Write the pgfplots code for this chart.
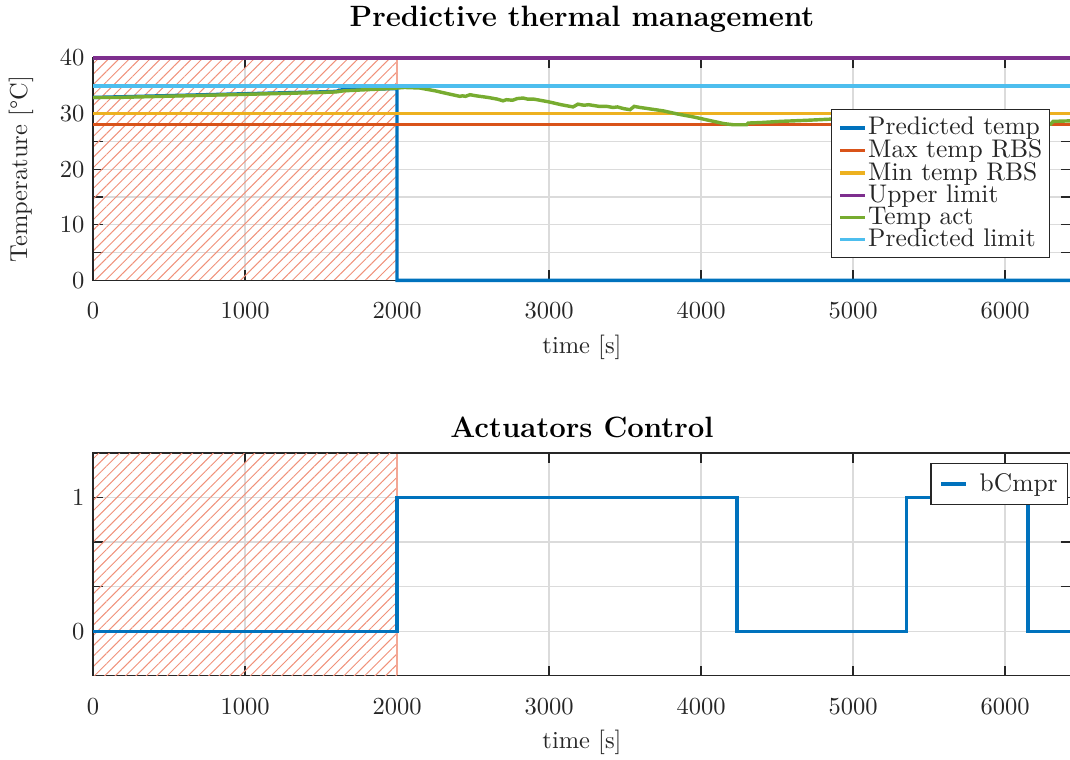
\documentclass[border=0pt]{standalone}
\usepackage{fontspec}
\usepackage{pgfplots}
\pgfplotsset{compat=1.18}
\usetikzlibrary{patterns.meta}

% MATLAB default line colours
\definecolor{mblue}{rgb}{0,0.447,0.741}
\definecolor{morange}{rgb}{0.851,0.325,0.098}
\definecolor{myellow}{rgb}{0.929,0.694,0.125}
\definecolor{mpurple}{rgb}{0.494,0.184,0.557}
\definecolor{mgreen}{rgb}{0.466,0.674,0.188}
\definecolor{mcyan}{rgb}{0.301,0.745,0.933}
\definecolor{axgray}{rgb}{0.15,0.15,0.15}
\definecolor{gridgray}{rgb}{0.86,0.86,0.86}
\definecolor{hatch}{rgb}{0.94,0.57,0.48}

\pgfplotsset{
  mstyle/.style={
    width=399.2pt, height=90.8pt, scale only axis,
    xmin=0, xmax=6434,
    xtick={0,1000,...,6000},
    /pgf/number format/1000 sep={},
    scaled x ticks=false,
    tick align=inside,
    major tick length=4.2pt, minor tick length=4.2pt,
    tick style={axgray, line width=0.5pt},
    axis line style={axgray, line width=0.5pt},
    grid=both,
    major grid style={gridgray, line width=0.5pt},
    minor grid style={gridgray, line width=0.5pt},
    ticklabel style={text=axgray, font=\normalsize},
    xticklabel style={yshift=-5.7pt},
    label style={text=axgray, font=\normalsize},
    xlabel={time [s]},
    xlabel style={at={(axis description cs:0.5,-0.303)}, anchor=center},
    every axis title/.style={font=\large\bfseries, text=black, anchor=base},
    legend cell align=left,
    legend image code/.code={\draw[##1] (0pt,0pt) -- (10pt,0pt);},
    every axis plot/.append style={line width=1.4pt},
    clip=false,
  },
  % hatched zone kept just inside the frame so the spines stay solid
  hatchzone/.style={forget plot, draw=none, line width=0pt,
    pattern={Lines[angle=45, distance=3pt, line width=0.4pt]},
    pattern color=hatch},
  hatchedge/.style={forget plot, hatch!80, line width=0.9pt},
}

\begin{document}
\begin{tikzpicture}

% ---------- thermal management ----------
\begin{axis}[mstyle, name=top, at={(0,0)}, anchor=north west,
  ymin=0, ymax=40,
  ytick={0,10,...,40}, minor ytick={5,15,25,35},
  ylabel={Temperature [°C]},
  ylabel style={at={(axis description cs:-0.0736,0.5)}, anchor=center},
  title={Predictive thermal management},
  title style={at={(axis description cs:0.5,1.14)}},
  legend style={at={(0.9785,0.770)}, anchor=north east,
    draw=axgray, line width=0.5pt, text=axgray,
    font=\fontsize{10.4}{12}\selectfont,
    inner xsep=2.2pt, inner ysep=1pt, row sep=-3.6pt,
    nodes={inner xsep=0.7pt}},
  legend image code/.code={\path (-0.8pt,0pt); \draw[#1] (0pt,0pt) -- (10pt,0pt);},
]
\addplot[hatchzone] coordinates {(8,0.15) (2000,0.15) (2000,39.85) (8,39.85)} -- cycle;
\addplot[hatchedge] coordinates {(2000,0.15) (2000,39.85)};

\addplot[mblue] coordinates {
  (0,32.9) (300,33.1) (600,33.3) (900,33.5) (1200,33.7) (1500,33.9)
  (1600,34.0) (1640,34.3) (1800,34.4) (2000,34.5) (2000,0) (6434,0)};
\addlegendentry{Predicted temp}
\addplot[morange] coordinates {(0,28) (6434,28)};
\addlegendentry{Max temp RBS}
\addplot[myellow] coordinates {(0,30) (6434,30)};
\addlegendentry{Min temp RBS}
\addplot[mpurple] coordinates {(0,40) (6434,40)};
\addlegendentry{Upper limit}
\addplot[mgreen] coordinates {
  (0,32.9) (150,32.9) (300,33.0) (450,33.1) (600,33.2) (750,33.3)
  (900,33.4) (1050,33.5) (1200,33.6) (1350,33.7) (1500,33.8) (1600,33.9)
  (1650,34.1) (1800,34.3) (1950,34.5) (2050,34.7) (2150,34.6) (2250,34.1)
  (2330,33.6) (2414,33.1) (2430,33.2) (2450,33.1) (2480,33.4) (2520,33.2)
  (2600,32.9) (2660,32.6) (2697,32.3) (2720,32.5) (2760,32.4) (2790,32.7)
  (2829,32.8) (2860,32.6) (2900,32.6) (2941,32.4) (3000,32.1) (3080,31.6)
  (3158,31.2) (3190,31.7) (3230,31.5) (3260,31.6) (3330,31.3) (3380,31.3)
  (3421,31.1) (3450,31.2) (3490,30.9) (3533,30.7) (3560,31.3) (3599,31.1)
  (3650,30.9) (3700,30.7) (3750,30.5) (3850,29.9) (3950,29.4) (4050,28.8)
  (4150,28.2) (4211,28.0) (4300,28.0) (4310,28.3) (4400,28.4) (4520,28.6)
  (4700,28.8) (4849,29.0) (5000,29.1) (5300,29.0) (5700,28.7) (6000,28.4)
  (6300,28.1) (6316,28.6) (6434,28.7)};
\addlegendentry{Temp act}
\addplot[mcyan] coordinates {(0,35) (6434,35)};
\addlegendentry{Predicted limit}
\end{axis}

% ---------- actuators ----------
\begin{axis}[mstyle, name=bot, at={(0,-161.2pt)}, anchor=north west,
  height=91pt,
  ymin=-0.33333, ymax=1.33333,
  ytick={0,1}, minor ytick={0.33333,0.66667},
  title={Actuators Control},
  title style={at={(axis description cs:0.5,1.067)}},
  xlabel style={at={(axis description cs:0.5,-0.297)}},
  legend style={at={(0.997,0.956)}, anchor=north east,
    draw=axgray, line width=0.5pt, text=axgray,
    font=\fontsize{10.4}{12}\selectfont,
    inner xsep=2.5pt, inner ysep=2pt,
    nodes={inner xsep=1.5pt}},
  legend image code/.code={\path (-1pt,0pt); \draw[#1] (0pt,0pt) -- (10pt,0pt); \path (13.5pt,0pt);},
]
\addplot[hatchzone] coordinates {(8,-0.3278) (2000,-0.3278) (2000,1.3278) (8,1.3278)} -- cycle;
\addplot[hatchedge] coordinates {(2000,-0.3278) (2000,1.3278)};

\addplot[mblue] coordinates {
  (0,0) (2000,0) (2000,1) (4237,1) (4237,0) (5350,0) (5350,1)
  (6150,1) (6150,0) (6434,0)};
\addlegendentry{bCmpr}
\end{axis}

% the right-hand edge of the figure falls just inside the axis frame
\pgfresetboundingbox
\useasboundingbox (-37.96pt,23.67pt) rectangle (398.78pt,-286.5pt);
\end{tikzpicture}
\end{document}
